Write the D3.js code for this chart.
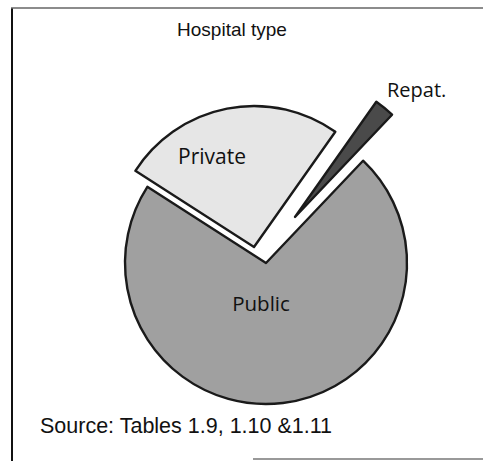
<!DOCTYPE html>
<html>
<head>
<meta charset="utf-8">
<script src="https://cdn.jsdelivr.net/npm/d3@7"></script>
<style>
  body { margin: 0; background: #fff; }
  svg { display: block; }
</style>
</head>
<body>
<div id="chart"></div>
<script>
// hospital type shares (percent of separations)
const categories = ["Private", "Repat.", "Public"];
const shares = [25.7, 2.3, 72.0];
const title = "Hospital type";
const source = "Source: Tables 1.9, 1.10 &1.11";

const width = 483;
const height = 461;

const svg = d3.select("#chart").append("svg")
  .attr("width", width)
  .attr("height", height);

// frame (left + top, bottom only partly visible in the scan)
svg.append("line").attr("x1", 12).attr("y1", 8).attr("x2", 12).attr("y2", height)
  .attr("stroke", "#111").attr("stroke-width", 2);
svg.append("line").attr("x1", 11).attr("y1", 8).attr("x2", width).attr("y2", 8)
  .attr("stroke", "#666").attr("stroke-width", 1.5);
svg.append("line").attr("x1", 253).attr("y1", 459).attr("x2", width).attr("y2", 459)
  .attr("stroke", "#777").attr("stroke-width", 1.5);

svg.append("text")
  .attr("x", 232)
  .attr("y", 36)
  .attr("text-anchor", "middle")
  .style("font-family", "'Liberation Sans', Arial, sans-serif")
  .style("font-size", "19px")
  .attr("fill", "#111")
  .text(title);

// pie
const cx = 266, cy = 263, radius = 141;
const start = -57.3 * Math.PI / 180;

const pie = d3.pie()
  .sort(null)
  .value(d => d)
  .startAngle(start)
  .endAngle(start + 2 * Math.PI);

const arc = d3.arc().innerRadius(0).outerRadius(radius);

const fills = {"Private": "#e6e6e6", "Repat.": "#4a4a4a", "Public": "#a0a0a0"};
// each slice is pulled out by a slightly different amount
const shift = {"Private": [-12, -16], "Repat.": [29, -46], "Public": [0, 0]};

const slices = pie(shares).map((p, i) => Object.assign(p, {name: categories[i]}));

svg.append("g")
  .selectAll("path")
  .data(slices)
  .enter()
  .append("path")
  .attr("transform", d => "translate(" + (cx + shift[d.name][0]) + "," + (cy + shift[d.name][1]) + ")")
  .attr("d", arc)
  .attr("fill", d => fills[d.name])
  .attr("stroke", "#1a1a1a")
  .attr("stroke-width", 2.4)
  .attr("stroke-linejoin", "round");

// slice labels
const labelFont = "'Open Sans', 'DejaVu Sans', sans-serif";
svg.append("text").attr("x", 212).attr("y", 164).attr("text-anchor", "middle")
  .style("font-family", labelFont).style("font-size", "21px").attr("fill", "#111")
  .text(categories[0]);
svg.append("text").attr("x", 387).attr("y", 97).attr("text-anchor", "start")
  .style("font-family", labelFont).style("font-size", "20px").attr("fill", "#111")
  .text(categories[1]);
svg.append("text").attr("x", 261).attr("y", 311).attr("text-anchor", "middle")
  .style("font-family", labelFont).style("font-size", "20.5px").attr("fill", "#111")
  .text(categories[2]);

svg.append("text")
  .attr("x", 40)
  .attr("y", 433)
  .style("font-family", "'Liberation Sans', Arial, sans-serif")
  .style("font-size", "21.5px")
  .attr("fill", "#111")
  .text(source);
</script>
</body>
</html>
